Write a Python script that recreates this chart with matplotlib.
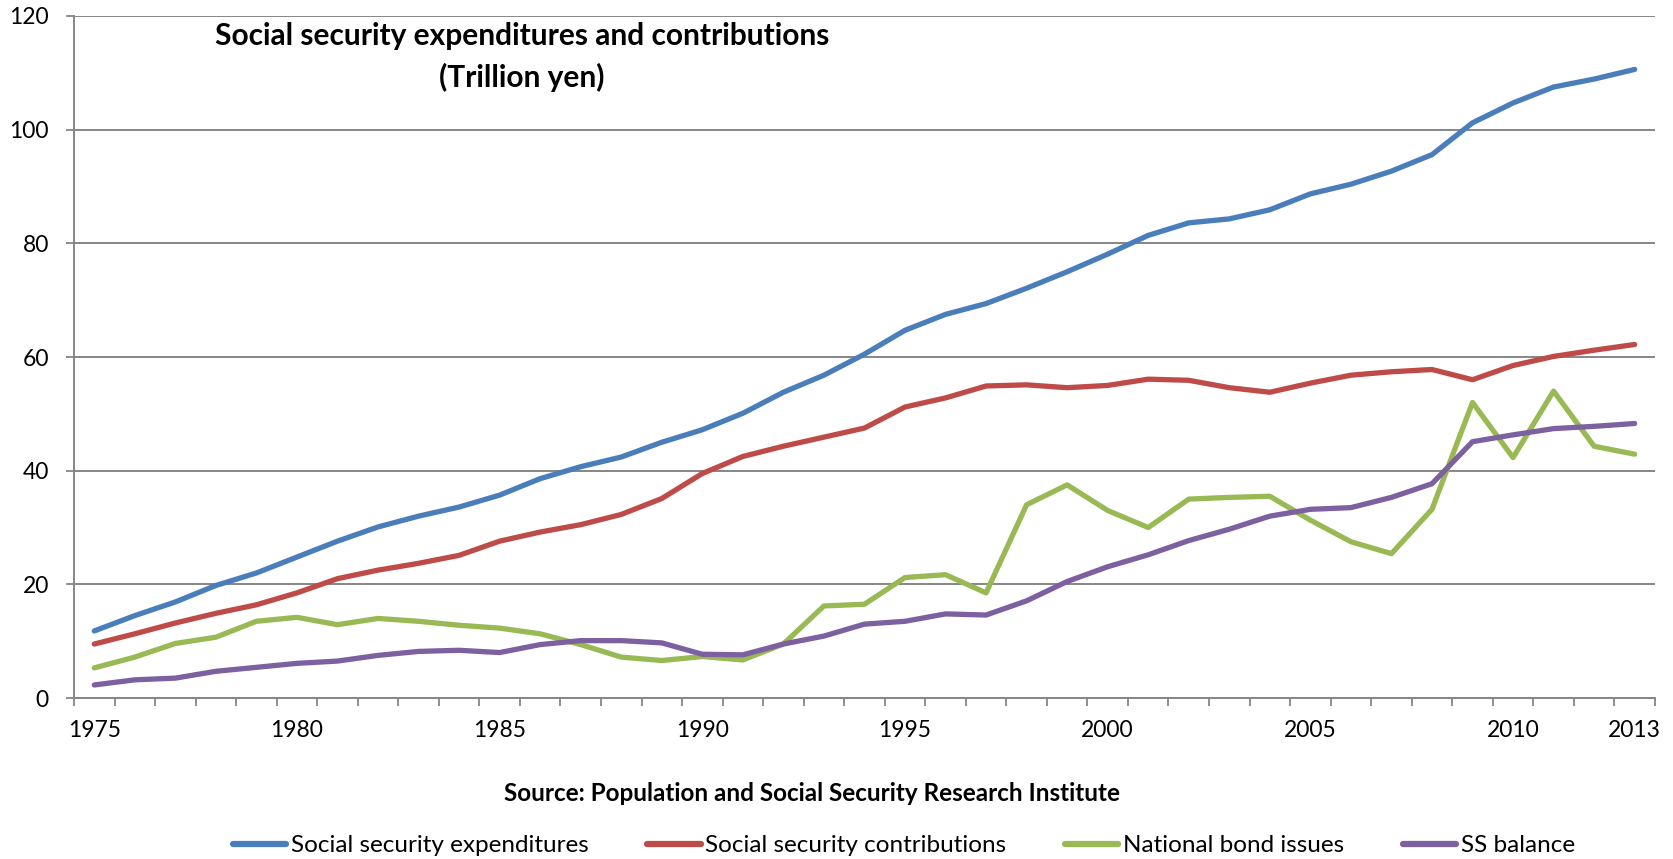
import matplotlib
matplotlib.use("Agg")
import matplotlib.pyplot as plt
from matplotlib.ticker import FixedLocator, NullFormatter

plt.rcParams['font.family'] = ['Lato', 'DejaVu Sans']

years = list(range(1975, 2014))

expenditures = [11.8, 14.5, 16.9, 19.8, 22.0, 24.8, 27.6, 30.1, 32.0, 33.6,
                35.7, 38.6, 40.7, 42.4, 45.0, 47.2, 50.1, 53.8, 56.8, 60.5,
                64.7, 67.5, 69.4, 72.1, 75.0, 78.1, 81.4, 83.6, 84.3, 85.9,
                88.7, 90.4, 92.7, 95.6, 101.2, 104.7, 107.5, 108.9, 110.6]

contributions = [9.5, 11.3, 13.2, 14.9, 16.4, 18.5, 21.0, 22.5, 23.7, 25.1,
                 27.6, 29.2, 30.5, 32.3, 35.1, 39.5, 42.5, 44.3, 45.9, 47.5,
                 51.2, 52.8, 54.9, 55.1, 54.6, 55.0, 56.1, 55.9, 54.6, 53.8,
                 55.4, 56.8, 57.4, 57.8, 56.0, 58.5, 60.1, 61.2, 62.2]

bond_issues = [5.3, 7.2, 9.6, 10.7, 13.5, 14.2, 12.9, 14.0, 13.5, 12.8,
               12.3, 11.3, 9.4, 7.2, 6.6, 7.3, 6.7, 9.5, 16.2, 16.5,
               21.2, 21.7, 18.5, 34.0, 37.5, 33.0, 30.0, 35.0, 35.3, 35.5,
               31.3, 27.5, 25.4, 33.2, 52.0, 42.3, 54.0, 44.3, 42.9]

ss_balance = [2.3, 3.2, 3.5, 4.7, 5.4, 6.1, 6.5, 7.5, 8.2, 8.4,
              8.0, 9.4, 10.1, 10.1, 9.7, 7.7, 7.6, 9.5, 10.9, 13.0,
              13.5, 14.8, 14.6, 17.1, 20.5, 23.1, 25.2, 27.7, 29.7, 32.0,
              33.2, 33.5, 35.3, 37.7, 45.1, 46.3, 47.4, 47.8, 48.3]

series_names = ["Social security expenditures", "Social security contributions",
                "National bond issues", "SS balance"]
tick_years = [1975, 1980, 1985, 1990, 1995, 2000, 2005, 2010, 2013]
y_ticks = [0, 20, 40, 60, 80, 100, 120]

colors = ["#4A7EBB", "#BE4B48", "#98B954", "#7D60A0"]
grid_color = "#868686"

fig = plt.figure(figsize=(16.74, 8.59), dpi=100)
ax = fig.add_axes([0.0442, 0.1874, 0.9444, 0.7940])

for vals, name, col in zip([expenditures, contributions, bond_issues, ss_balance],
                           series_names, colors):
    ax.plot(years, vals, color=col, lw=3.8, solid_capstyle='round',
            solid_joinstyle='round', label=name, zorder=3)

ax.set_xlim(years[0] - 0.5, years[-1] + 0.5)
ax.set_ylim(0, 120)

ax.set_yticks(y_ticks)
ax.yaxis.grid(True, color=grid_color, lw=1.4, zorder=0)
ax.set_axisbelow(True)
ax.tick_params(axis='y', length=6, width=1.3, color=grid_color, pad=12,
               labelsize=16.5, labelcolor='black')

ax.set_xticks(tick_years)
ax.set_xticklabels([str(y) for y in tick_years])
ax.xaxis.set_minor_locator(FixedLocator([y - 0.5 for y in years] + [years[-1] + 0.5]))
ax.xaxis.set_minor_formatter(NullFormatter())
ax.tick_params(axis='x', which='major', length=0, pad=16, labelsize=16.5,
               labelcolor='black')
ax.tick_params(axis='x', which='minor', length=6, width=1.3, color=grid_color)

for side in ['top', 'right']:
    ax.spines[side].set_visible(False)
for side in ['left', 'bottom']:
    ax.spines[side].set_color(grid_color)
    ax.spines[side].set_linewidth(1.4)

fig.text(0.3118, 0.958, "Social security expenditures and contributions",
         ha='center', va='center', fontsize=21.5, fontweight='bold')
fig.text(0.3118, 0.910, "(Trillion yen)",
         ha='center', va='center', fontsize=21.5, fontweight='bold')

fig.text(0.485, 0.0768, "Source: Population and Social Security Research Institute",
         ha='center', va='center', fontsize=17.5, fontweight='bold')

leg = fig.legend(loc='center', bbox_to_anchor=(0.54, 0.0157), ncol=4, frameon=False,
                 fontsize=17.5, handlelength=2.2, handletextpad=0.2,
                 columnspacing=2.4, borderpad=0, borderaxespad=0)
for line in leg.get_lines():
    line.set_linewidth(4.5)

fig.savefig("out.png", dpi=100, facecolor='white')
